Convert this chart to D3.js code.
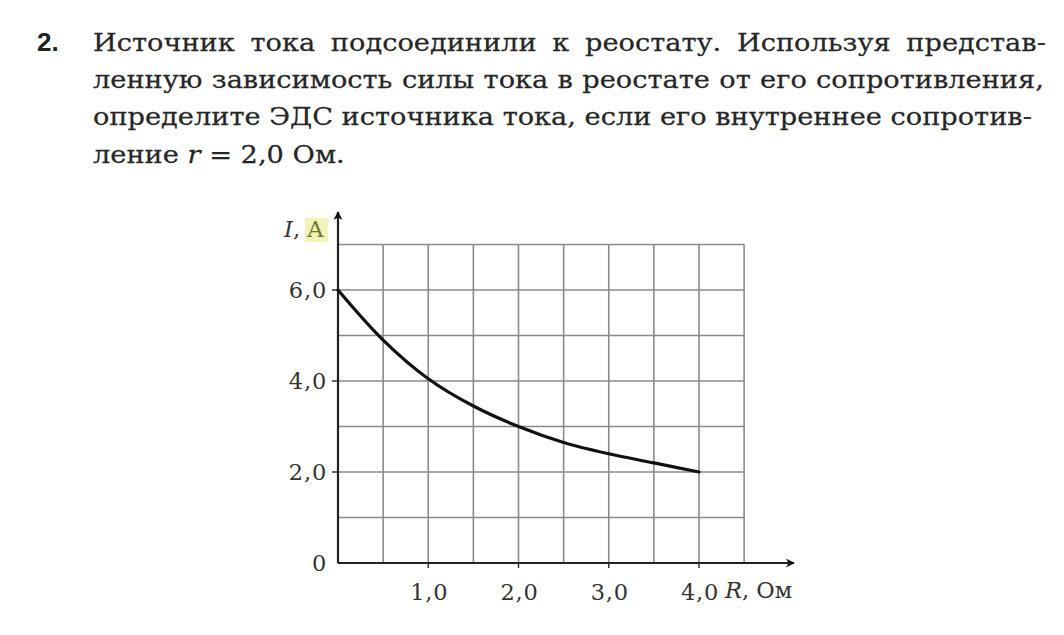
<!DOCTYPE html>
<html><head><meta charset="utf-8">
<script src="https://cdn.jsdelivr.net/npm/d3@7"></script>
<style>
html,body{margin:0;padding:0;background:#fff;}
svg{display:block;}
</style></head>
<body>
<svg id="c" width="1064" height="635"></svg>
<script>
// ---- data ----
const problemNumber = "2.";
const textLines = [
  "Источник тока подсоединили к реостату. Используя представ-",
  "ленную зависимость силы тока в реостате от его сопротивления,",
  "определите ЭДС источника тока, если его внутреннее сопротив-"
];
const lastLinePrefix = "ление ";
const lastLineSuffix = " = 2,0 Ом.";
const resistance = [0, 0.5, 1.0, 1.5, 2.0, 2.5, 3.0, 3.5, 4.0];
const current    = [6.0, 4.9, 4.05, 3.45, 3.0, 2.65, 2.4, 2.2, 2.0];
const xTickValues = [1, 2, 3, 4];
const xTickLabels = ["1,0", "2,0", "3,0", "4,0"];
const yTickValues = [0, 2, 4, 6];
const yTickLabels = ["0", "2,0", "4,0", "6,0"];
const xGrid = [0.5, 1, 1.5, 2, 2.5, 3, 3.5, 4, 4.5];
const yGrid = [1, 2, 3, 4, 5, 6, 7];

const svg = d3.select("#c");
const serif = "'DejaVu Serif','Liberation Serif',serif";
const textColor = "#262626";

// ---- text block ----
svg.append("text").attr("x", 37).attr("y", 51)
  .attr("font-family", "'Liberation Sans',Arial,sans-serif").attr("font-weight", "bold")
  .attr("font-size", 26).attr("fill", "#222").text(problemNumber);

const lineX0 = 93, lineX1 = [1046, 1044, 1032];
const baselines = [51, 88, 125, 163];
const fs = 25;
const sxWanted = 1.09;
function layoutLine(line, i) {
  const words = line.split(" ");
  const g = svg.append("text")
    .attr("font-family", serif).attr("font-size", fs).attr("fill", textColor)
    .attr("stroke", textColor).attr("stroke-width", 0.25);
  const spans = words.map(w => g.append("tspan").attr("x", 0).attr("y", 0).text(w));
  const widths = spans.map(s => s.node().getComputedTextLength());
  const target = lineX1[i] - lineX0;
  const minGap = 6;
  const sx = Math.min(sxWanted, target / (d3.sum(widths) + minGap * (words.length - 1)));
  g.attr("transform", `translate(${lineX0},${baselines[i]}) scale(${sx},1)`);
  const gap = (target / sx - d3.sum(widths)) / (words.length - 1);
  let x = 0;
  spans.forEach((s, k) => { s.attr("x", x); x += widths[k] + gap; });
}
textLines.forEach(layoutLine);
const last = svg.append("text")
  .attr("transform", `translate(${lineX0},${baselines[3]}) scale(${sxWanted},1)`)
  .attr("font-family", serif).attr("font-size", fs).attr("fill", textColor)
  .attr("stroke", textColor).attr("stroke-width", 0.25);
last.append("tspan").text(lastLinePrefix);
last.append("tspan").attr("font-style", "italic").text("r");
last.append("tspan").text(lastLineSuffix);

// ---- chart ----
const x = d3.scaleLinear().domain([0, 4]).range([338, 699]);
const y = d3.scaleLinear().domain([0, 6]).range([563, 290]);

const grid = svg.append("g").attr("stroke", "#8a8a8a").attr("stroke-width", 1.6);
xGrid.forEach(v => grid.append("line")
  .attr("x1", x(v)).attr("x2", x(v)).attr("y1", y(0)).attr("y2", y(7)));
yGrid.forEach(v => grid.append("line")
  .attr("x1", x(0)).attr("x2", x(4.5)).attr("y1", y(v)).attr("y2", y(v)));

// axes
const defs = svg.append("defs");
defs.append("marker").attr("id", "arr").attr("viewBox", "0 0 10 10")
  .attr("refX", 9).attr("refY", 5).attr("markerWidth", 16).attr("markerHeight", 9)
  .attr("markerUnits", "userSpaceOnUse").attr("orient", "auto")
  .append("path").attr("d", "M0,0 L10,5 L0,10 L3,5 Z").attr("fill", "#111");

svg.append("line").attr("x1", x(0)).attr("x2", 794).attr("y1", y(0)).attr("y2", y(0))
  .attr("stroke", "#222").attr("stroke-width", 2.2).attr("marker-end", "url(#arr)");
svg.append("line").attr("x1", x(0)).attr("x2", x(0)).attr("y1", y(0)).attr("y2", 212)
  .attr("stroke", "#222").attr("stroke-width", 2.2).attr("marker-end", "url(#arr)");

// ticks
const ax = svg.append("g").attr("stroke", "#333").attr("stroke-width", 1.5);
xTickValues.forEach(v => ax.append("line").attr("x1", x(v)).attr("x2", x(v))
  .attr("y1", y(0)).attr("y2", y(0) + 5));
yTickValues.filter(v => v > 0).forEach(v => ax.append("line").attr("x1", x(0) - 6).attr("x2", x(0))
  .attr("y1", y(v)).attr("y2", y(v)));

const lblColor = "#333";
const lblFs = 22.5;
xTickValues.forEach((v, i) => svg.append("text").attr("x", x(v) + 1).attr("y", 600)
  .attr("text-anchor", "middle").attr("font-family", serif).attr("font-size", lblFs)
  .attr("letter-spacing", 0.8).attr("fill", lblColor).text(xTickLabels[i]));
yTickValues.forEach((v, i) => svg.append("text").attr("x", 327).attr("y", y(v) + 8)
  .attr("text-anchor", "end").attr("font-family", serif).attr("font-size", lblFs)
  .attr("letter-spacing", 0.8).attr("fill", lblColor).text(yTickLabels[i]));

// axis titles
const xt = svg.append("text").attr("x", 725).attr("y", 598)
  .attr("font-family", serif).attr("font-size", lblFs).attr("fill", lblColor);
xt.append("tspan").attr("font-style", "italic").text("R");
xt.append("tspan").text(", Ом");

svg.append("rect").attr("x", 305).attr("y", 218).attr("width", 23).attr("height", 24)
  .attr("fill", "#f1f3b8");
const yt = svg.append("text").attr("x", 284).attr("y", 237)
  .attr("font-family", serif).attr("font-size", lblFs).attr("fill", lblColor);
yt.append("tspan").attr("font-style", "italic").text("I");
yt.append("tspan").text(", ");
yt.append("tspan").attr("fill", "#6f7a2a").text("A");

// curve
const pts = resistance.map((r, i) => [r, current[i]]);
svg.append("path").datum(pts)
  .attr("d", d3.line().x(d => x(d[0])).y(d => y(d[1])).curve(d3.curveCatmullRom.alpha(0.5)))
  .attr("fill", "none").attr("stroke", "#111").attr("stroke-width", 3.2)
  .attr("stroke-linecap", "round");
</script>
</body></html>
